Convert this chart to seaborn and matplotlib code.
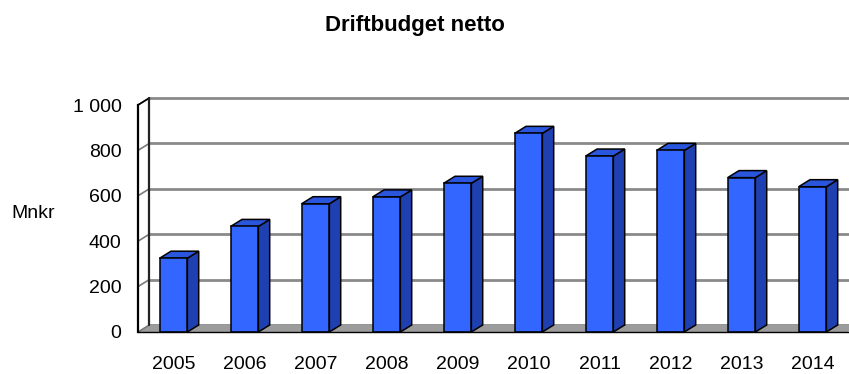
import matplotlib
matplotlib.use("Agg")
import matplotlib.pyplot as plt
from matplotlib.patches import Polygon
import seaborn as sns
import pandas as pd

years = ["2005", "2006", "2007", "2008", "2009", "2010", "2011", "2012", "2013", "2014"]
values = [325, 465, 565, 595, 655, 875, 775, 800, 680, 640]
ytick_values = [0, 200, 400, 600, 800, 1000]
ytick_labels = ["0", "200", "400", "600", "800", "1 000"]
title = "Driftbudget netto"
ylabel = "Mnkr"

sns.set_style("white")
plt.rcParams["font.family"] = ["Liberation Sans", "DejaVu Sans"]
plt.rcParams["text.color"] = "black"
plt.rcParams["xtick.color"] = "black"
plt.rcParams["ytick.color"] = "black"

W, H = 849, 374
fig = plt.figure(figsize=(W / 100, H / 100), dpi=100)
ax = fig.add_axes([138 / W, (H - 332) / H, 710 / W, 227 / H])

df = pd.DataFrame({"year": years, "value": values})
sns.barplot(data=df, x="year", y="value", width=0.39, color="#3366FF",
            saturation=1, edgecolor="black", linewidth=1.1, ax=ax, zorder=5)
bars = list(ax.patches)

ax.set_xlim(-0.5, len(years) - 0.5)
ax.set_ylim(0, 1000)

dx, dy = 0.16, 31  # depth offset (data units)
x0, x1 = -0.5, len(years) - 0.5

# floor
ax.add_patch(Polygon([(x0, 0), (x1, 0), (x1 + dx, dy), (x0 + dx, dy)],
                     closed=True, facecolor="#9c9c9c", edgecolor="none",
                     zorder=1, clip_on=False))
# back wall gridlines and left wall
for v in ytick_values:
    ax.plot([x0 + dx, x1 + dx + 1], [v + dy, v + dy], color="#8a8a8a",
            lw=2.0, zorder=0.5, clip_on=False, solid_capstyle="butt")
    ax.plot([x0, x0 + dx], [v, v + dy], color="#7a7a7a", lw=1.2,
            zorder=2, clip_on=False)
ax.plot([x0, x0 + dx], [1000, 1000 + dy], color="black", lw=1.2,
        zorder=3, clip_on=False)
ax.plot([x0 + dx, x0 + dx], [dy, 1000 + dy], color="#222222", lw=1.6,
        zorder=3, clip_on=False)

# 3D sides and tops of bars
for p in bars:
    bx, bw, bh = p.get_x(), p.get_width(), p.get_height()
    side = Polygon([(bx + bw, 0), (bx + bw + dx, dy), (bx + bw + dx, bh + dy), (bx + bw, bh)],
                   closed=True, facecolor="#1f40b0", edgecolor="black",
                   linewidth=1.1, zorder=4, clip_on=False)
    top = Polygon([(bx, bh), (bx + dx, bh + dy), (bx + bw + dx, bh + dy), (bx + bw, bh)],
                  closed=True, facecolor="#2a55dd", edgecolor="black",
                  linewidth=1.1, zorder=4, clip_on=False)
    ax.add_patch(side)
    ax.add_patch(top)

# axes styling
for s in ["top", "right"]:
    ax.spines[s].set_visible(False)
ax.spines["left"].set_color("black")
ax.spines["left"].set_linewidth(1.6)
ax.spines["left"].set_zorder(6)
ax.spines["bottom"].set_color("black")
ax.spines["bottom"].set_linewidth(1.0)
ax.spines["bottom"].set_zorder(6)

ax.set_yticks(ytick_values)
ax.set_yticklabels(ytick_labels, fontsize=14)
ax.set_xticks([i - 0.5 for i in range(len(years) + 1)], minor=False)
ax.set_xticklabels([""] * (len(years) + 1))
ax.set_xticks(range(len(years)), minor=True)
ax.set_xticklabels(years, minor=True, fontsize=14)
ax.tick_params(axis="x", which="major", direction="out", length=3.6, width=1, color="black")
ax.tick_params(axis="x", which="minor", length=0, pad=17.5)
ax.tick_params(axis="y", direction="out", length=3.6, width=1, color="black", pad=8.3)
ax.set_xlabel("")
ax.set_ylabel("")

fig.text(414.5 / W, 1 - 31 / H, title, ha="center", va="baseline",
         fontsize=16, fontweight="bold", color="black")
fig.text(33 / W, 1 - 214 / H, ylabel, ha="center", va="center", fontsize=14,
         color="black")

fig.savefig("out.png", dpi=100)
